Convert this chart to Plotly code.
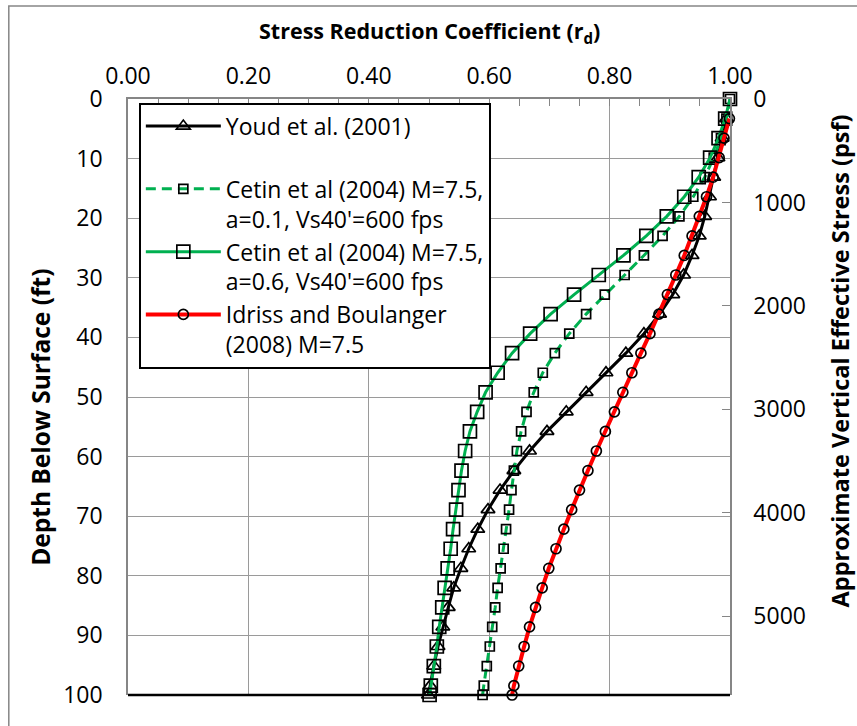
import plotly.graph_objects as go

# Depth of each computed point (1 m steps, converted to feet, ending at 100 ft)
depth_ft = [0.0, 3.28, 6.56, 9.84, 13.12, 16.40, 19.69, 22.97, 26.25, 29.53,
            32.81, 36.09, 39.37, 42.65, 45.93, 49.21, 52.49, 55.77, 59.06, 62.34,
            65.62, 68.90, 72.18, 75.46, 78.74, 82.02, 85.30, 88.58, 91.86, 95.14,
            98.43, 100.0]

# Stress reduction coefficient r_d for each relationship
rd_youd = [0.994, 0.987, 0.980, 0.973, 0.966, 0.958, 0.949, 0.937, 0.923, 0.905,
           0.883, 0.857, 0.827, 0.794, 0.761, 0.728, 0.696, 0.667, 0.641, 0.618,
           0.598, 0.581, 0.566, 0.553, 0.541, 0.532, 0.523, 0.515, 0.508, 0.502,
           0.499]
rd_cetin_a01 = [1.000, 0.994, 0.985, 0.973, 0.958, 0.939, 0.916, 0.888, 0.857, 0.825,
                0.792, 0.761, 0.733, 0.709, 0.689, 0.674, 0.662, 0.653, 0.646, 0.641,
                0.637, 0.633, 0.628, 0.624, 0.619, 0.614, 0.610, 0.605, 0.601, 0.596,
                0.591, 0.589]
rd_cetin_a06 = [1.000, 0.992, 0.981, 0.967, 0.948, 0.924, 0.895, 0.861, 0.823, 0.782,
                0.741, 0.702, 0.668, 0.638, 0.614, 0.594, 0.580, 0.568, 0.560, 0.554,
                0.549, 0.545, 0.540, 0.536, 0.531, 0.526, 0.522, 0.517, 0.513, 0.508,
                0.503, 0.501]
rd_idriss = [0.999, 0.990, 0.982, 0.972, 0.961, 0.949, 0.937, 0.924, 0.910, 0.896,
             0.882, 0.867, 0.852, 0.837, 0.822, 0.808, 0.793, 0.778, 0.764, 0.750,
             0.737, 0.724, 0.711, 0.699, 0.688, 0.677, 0.667, 0.658, 0.649, 0.641,
             0.638]

series_names = [
    "Youd et al. (2001)<br>\u00a0",
    "Cetin et al (2004) M=7.5,<br>a=0.1, Vs40'=600 fps",
    "Cetin et al (2004) M=7.5,<br>a=0.6, Vs40'=600 fps",
    "Idriss and Boulanger<br>(2008) M=7.5",
]

# Right-hand axis: effective stress (psf) spanning the same 0-100 ft depth range
stress_axis_max = 5760
stress_ticks = [0, 1000, 2000, 3000, 4000, 5000]

FONT = "Open Sans"
GRAY = "#868686"
GREEN = "#00B050"

fig = go.Figure()

fig.add_trace(go.Scatter(
    x=rd_youd, y=depth_ft[1:], name=series_names[0], mode="lines+markers",
    line=dict(color="black", width=3),
    marker=dict(symbol="triangle-up-open", size=12, color="black", line=dict(width=1.7)),
    cliponaxis=False,
))
fig.add_trace(go.Scatter(
    x=rd_cetin_a01, y=depth_ft, name=series_names[1], mode="lines+markers",
    line=dict(color=GREEN, width=3, dash="10px,6px"),
    marker=dict(symbol="square-open", size=9, color="black", line=dict(width=1.7)),
    cliponaxis=False,
))
fig.add_trace(go.Scatter(
    x=rd_cetin_a06, y=depth_ft, name=series_names[2], mode="lines+markers",
    line=dict(color=GREEN, width=3),
    marker=dict(symbol="square-open", size=13, color="black", line=dict(width=1.7)),
    cliponaxis=False,
))
fig.add_trace(go.Scatter(
    x=rd_idriss, y=depth_ft[1:], name=series_names[3], mode="lines+markers",
    line=dict(color="#FF0000", width=4),
    marker=dict(symbol="circle-open", size=10, color="black", line=dict(width=1.7)),
    cliponaxis=False,
))
# Carrier trace so the secondary stress axis is drawn
fig.add_trace(go.Scatter(x=[None], y=[None], yaxis="y2", showlegend=False,
                         hoverinfo="skip"))

fig.update_layout(
    width=857, height=726,
    margin=dict(l=128, r=127, t=99, b=31),
    paper_bgcolor="white", plot_bgcolor="white",
    font=dict(family=FONT, size=22, color="black"),
    showlegend=True,
    legend=dict(
        x=0.018, y=0.994, xanchor="left", yanchor="top",
        bgcolor="white", bordercolor="black", borderwidth=2,
        font=dict(family=FONT, size=23), valign="top", itemwidth=75,
    ),
    xaxis=dict(
        side="top", range=[0, 1], dtick=0.2, tickformat=".2f",
        showgrid=True, gridcolor="#9a9a9a", gridwidth=1,
        showline=True, linecolor=GRAY, linewidth=1.5,
        ticks="inside", ticklen=7, tickcolor=GRAY,
        minor=dict(dtick=0.05, ticks="inside", ticklen=7, tickcolor=GRAY, showgrid=False),
        tickfont=dict(size=23), ticklabelstandoff=4, zeroline=False,
    ),
    yaxis=dict(
        range=[100, 0], dtick=10,
        showgrid=True, gridcolor="#9a9a9a", gridwidth=1,
        showline=True, linecolor=GRAY, linewidth=1.5,
        ticks="", tickfont=dict(size=23), ticklabelstandoff=19, zeroline=False,
    ),
    yaxis2=dict(
        overlaying="y", side="right", anchor="x",
        range=[stress_axis_max, 0], tickvals=stress_ticks,
        showgrid=False, showline=True, linecolor=GRAY, linewidth=1.5,
        ticks="inside", ticklen=8, tickcolor=GRAY,
        tickfont=dict(size=23), ticklabelstandoff=17, zeroline=False,
    ),
    annotations=[
        dict(text="<b>Stress Reduction Coefficient (r<sub>d</sub>)</b>",
             xref="paper", yref="paper", x=0.5, y=1.112,
             xanchor="center", yanchor="middle", showarrow=False,
             font=dict(family=FONT, size=21.5)),
        dict(text="<b>Depth Below Surface (ft)</b>",
             xref="paper", yref="paper", x=-0.1445, y=0.465,
             xanchor="center", yanchor="middle", textangle=-90, showarrow=False,
             font=dict(family=FONT, size=24.5)),
        dict(text="<b>Approximate Vertical Effective Stress (psf)</b>",
             xref="paper", yref="paper", x=1.183, y=0.56,
             xanchor="center", yanchor="middle", textangle=-90, showarrow=False,
             font=dict(family=FONT, size=23.5)),
    ],
    shapes=[
        # chart frame
        dict(type="rect", xref="paper", yref="paper", x0=-0.198, x1=2.0,
             y0=-1.0, y1=1.156, line=dict(color=GRAY, width=1.5), layer="below"),
        # bottom axis line
        dict(type="line", xref="paper", yref="paper", x0=0, x1=1, y0=0, y1=0,
             line=dict(color="black", width=2.5)),
    ],
)

fig.write_html("out.html")
